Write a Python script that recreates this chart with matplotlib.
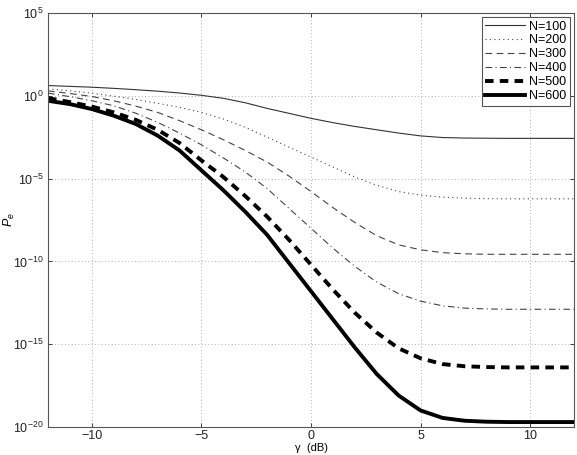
import numpy as np
import matplotlib
matplotlib.use("Agg")
import matplotlib.pyplot as plt
from matplotlib.ticker import FixedLocator, NullLocator

plt.rcParams['font.family'] = ['Liberation Sans', 'DejaVu Sans']
plt.rcParams['mathtext.fontset'] = 'custom'
plt.rcParams['mathtext.rm'] = 'Liberation Sans'
plt.rcParams['mathtext.it'] = 'Liberation Sans:italic'

gamma_db = list(range(-12, 13))

# log10(P_e), one value per dB
log_pe_100 = [0.62, 0.57, 0.52, 0.45, 0.37, 0.28, 0.17, 0.03, -0.15, -0.42, -0.76, -1.06, -1.36,
              -1.62, -1.85, -2.05, -2.25, -2.42, -2.52, -2.55, -2.56, -2.57, -2.57, -2.57, -2.57]
log_pe_200 = [0.42, 0.3, 0.16, -0.02, -0.22, -0.45, -0.7, -1.0, -1.4, -1.9, -2.5, -3.1, -3.7,
              -4.3, -4.9, -5.4, -5.78, -6.0, -6.12, -6.18, -6.21, -6.22, -6.22, -6.22, -6.22]
log_pe_300 = [0.3, 0.14, -0.04, -0.3, -0.62, -1.0, -1.5, -2.05, -2.65, -3.3, -4.0, -4.85, -5.78,
              -6.75, -7.65, -8.45, -9.0, -9.3, -9.47, -9.54, -9.57, -9.57, -9.57, -9.57, -9.57]
log_pe_400 = [0.16, -0.05, -0.3, -0.6, -1.05, -1.6, -2.25, -2.96, -3.75, -4.6, -5.6, -6.8, -8.0,
              -9.2, -10.3, -11.25, -11.95, -12.4, -12.68, -12.82, -12.87, -12.89, -12.89, -12.89, -12.89]
log_pe_500 = [-0.14, -0.38, -0.65, -1.0, -1.45, -2.05, -2.85, -3.9, -4.9, -6.05, -7.3, -8.7, -10.2,
              -11.7, -13.1, -14.3, -15.25, -15.85, -16.2, -16.33, -16.38, -16.4, -16.4, -16.4, -16.4]
log_pe_600 = [-0.3, -0.5, -0.8, -1.2, -1.7, -2.4, -3.3, -4.5, -5.7, -7.0, -8.4, -10.1, -11.8,
              -13.5, -15.2, -16.8, -18.1, -19.0, -19.45, -19.62, -19.68, -19.7, -19.7, -19.7, -19.7]

labels = ['N=100', 'N=200', 'N=300', 'N=400', 'N=500', 'N=600']
series = [log_pe_100, log_pe_200, log_pe_300, log_pe_400, log_pe_500, log_pe_600]

styles = [
    dict(linestyle='-', linewidth=0.8, color='#333333'),
    dict(linestyle=(0, (1, 3)), linewidth=0.8, color='#444444'),
    dict(linestyle=(0, (6, 4)), linewidth=0.8, color='#444444'),
    dict(linestyle=(0, (6, 3, 1, 3)), linewidth=0.8, color='#444444'),
    dict(linestyle=(0, (2.2, 1.6)), linewidth=2.8, color='black'),
    dict(linestyle='-', linewidth=2.8, color='black'),
]

fig = plt.figure(figsize=(5.77, 4.55), dpi=100)
ax = fig.add_axes([0.0832, 0.0615, 0.9116, 0.9099])

x = np.array(gamma_db)
for lab, s, st in zip(labels, series, styles):
    ax.semilogy(x, 10.0 ** np.array(s), label=lab, solid_joinstyle='round', **st)

ax.set_xlim(-12, 12)
ax.set_ylim(1e-20, 1e5)
ax.xaxis.set_major_locator(FixedLocator([-10, -5, 0, 5, 10]))
ax.set_xticklabels(['\u221210', '\u22125', '0', '5', '10'])
yt = [1e-20, 1e-15, 1e-10, 1e-5, 1e0, 1e5]
ax.yaxis.set_major_locator(FixedLocator(yt))
ax.yaxis.set_minor_locator(NullLocator())
ax.set_yticklabels([r'$10^{-20}$', r'$10^{-15}$', r'$10^{-10}$', r'$10^{-5}$', r'$10^{0}$', r'$10^{5}$'])

ax.grid(True, which='major', linestyle=(0, (1, 3)), color='#999999', linewidth=0.6)
ax.tick_params(direction='in', length=3, labelsize=9, colors='#222222', width=0.6,
               top=True, right=True)
ax.tick_params(axis='x', pad=2.5)
for sp in ax.spines.values():
    sp.set_color('#555555')
    sp.set_linewidth(0.8)

ax.set_xlabel('\u03b3  (dB)', fontsize=8)
ax.xaxis.set_label_coords(0.5, -0.039)
ax.set_ylabel(r'$P_e$', fontsize=9)
ax.yaxis.set_label_coords(-0.058, 0.5)

leg = ax.legend(loc='upper right', fontsize=9, handlelength=3.2, handletextpad=0.3,
                borderpad=0.3, labelspacing=0.15, fancybox=False, framealpha=1,
                edgecolor='#555555', borderaxespad=0.3)
leg.get_frame().set_linewidth(0.8)

fig.savefig('out.png', dpi=100)
